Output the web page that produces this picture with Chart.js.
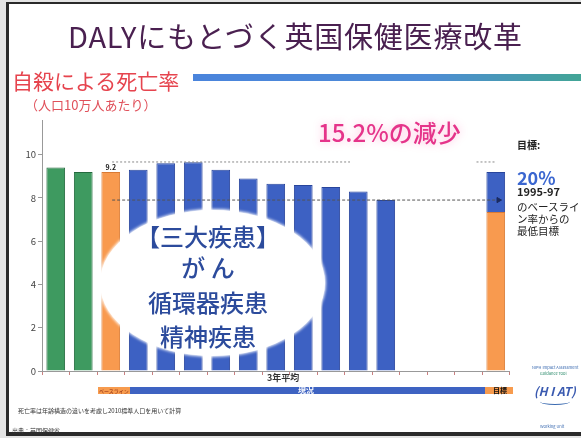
<!DOCTYPE html>
<html><head><meta charset="utf-8">
<script src="https://cdn.jsdelivr.net/npm/chart.js@4.4.0/dist/chart.umd.min.js"></script>
<style>
html,body{margin:0;padding:0;}
body{width:581px;height:438px;position:relative;overflow:hidden;background:#e4e4e4;font-family:"Noto Sans CJK JP","Noto Sans",sans-serif;}
#frame{position:absolute;left:6px;top:2px;width:575px;height:434px;box-sizing:border-box;border:2px solid #2a2a2a;border-left-width:3px;border-bottom-width:4px;border-right:none;background:#fff;}
canvas{position:absolute;left:0;top:0;}
.t{position:absolute;white-space:nowrap;line-height:1;}
#ell{position:absolute;left:100px;top:210px;width:225px;height:146px;border-radius:50%;background:#fff;box-shadow:0 0 3px 1px #fff;}
.el{position:absolute;left:96px;width:224px;text-align:center;font-size:24px;font-weight:500;color:#2c4b9c;line-height:1;white-space:nowrap;}
.seg{position:absolute;top:387px;height:7px;}
</style></head><body>
<div id="frame"></div>
<canvas id="c" width="581" height="438"></canvas>

<div class="t" style="left:68px;top:21px;font-size:29px;color:#4a2050;letter-spacing:0.8px;">DALYにもとづく英国保健医療改革</div>
<div class="t" style="left:12px;top:70px;font-size:21px;color:#e6444e;">自殺による死亡率</div>
<div class="t" style="left:25px;top:98px;font-size:13px;color:#e0505a;">（人口10万人あたり）</div>
<div style="position:absolute;left:193px;top:74px;width:388px;height:7px;background:linear-gradient(to right,#4a84dc,#4e8cd6 60%,#42a596);"></div>
<div class="t" style="left:318px;top:120px;font-size:24px;font-weight:500;color:#e5348a;text-shadow:0 0 8px rgba(255,170,210,0.8);">15.2%の減少</div>

<div class="t" style="left:517px;top:140px;font-size:10px;font-weight:bold;color:#222;">目標:</div>
<div class="t" style="left:517px;top:168px;font-size:18px;font-weight:bold;color:#3a66d0;">20%</div>
<div class="t" style="left:517px;top:186px;font-size:11px;font-weight:bold;color:#222;">1995-97</div>
<div class="t" style="left:517px;top:202px;font-size:10.5px;color:#222;">のベースライ</div>
<div class="t" style="left:517px;top:214px;font-size:10.5px;color:#222;">ン率からの</div>
<div class="t" style="left:517px;top:226px;font-size:10.5px;color:#222;">最低目標</div>

<div id="ell"></div>
<div class="el" style="top:224px;">【三大疾患】</div>
<div class="el" style="top:255px;">が ん</div>
<div class="el" style="top:290px;">循環器疾患</div>
<div class="el" style="top:324px;">精神疾患</div>

<div class="t" style="left:267px;top:373px;font-size:9px;font-weight:bold;color:#333;">3年平均</div>
<div class="seg" style="left:98px;width:32px;background:#f79b4e;"></div>
<div class="seg" style="left:130px;width:355px;background:#3e63c2;"></div>
<div class="seg" style="left:485px;width:28px;background:#f79b4e;"></div>
<div class="t" style="left:99px;top:388px;font-size:5px;color:#8a2a10;">ベースライン</div>
<div class="t" style="left:298px;top:386px;font-size:8px;font-weight:bold;color:#fff;">現況</div>
<div class="t" style="left:493px;top:387px;font-size:7px;font-weight:bold;color:#111;">目標</div>

<div class="t" style="left:18px;top:408px;font-size:6px;color:#333;">死亡率は年齢構造の違いを考慮し2010標準人口を用いて計算</div>
<div class="t" style="left:12px;top:428px;font-size:6px;color:#333;">出典：英国保健省</div>

<div class="t" style="left:532px;top:365px;font-size:4px;color:#3a6ab0;">NIPH Impact Assessment</div>
<div class="t" style="left:540px;top:371px;font-size:4px;color:#2a8a6a;">Guidance Tool</div>
<div class="t" style="left:534px;top:385px;font-size:12px;font-style:italic;font-weight:bold;color:#3a5ab0;">(H I AT)</div>
<div style="position:absolute;left:540px;top:398px;width:30px;height:6px;border-bottom:1.5px solid #3a6ab0;border-radius:0 0 50% 50%;"></div>
<div class="t" style="left:540px;top:424px;font-size:4px;color:#3a6ab0;">Working Unit</div>

<script>
const categories = ['1993-95','1994-96','1995-97','1996-98','1997-99','1998-00','1999-01','2000-02','2001-03','2002-04','2003-05','2004-06','2005-07','2006-08','2007-09','2008-10','2009-11'];
const earlyRates    = [9.4, 9.2, null, null, null, null, null, null, null, null, null, null, null, null, null, null, null];
const baselineTarget = [null, null, 9.2, null, null, null, null, null, null, null, null, null, null, null, null, null, 7.35];
const currentRates  = [null, null, null, 9.3, 9.6, 9.65, 9.3, 8.9, 8.65, 8.6, 8.5, 8.3, 7.9, null, null, null, [7.35, 9.2]];
const peakLine      = [{x:2.05,y:9.66},{x:10.7,y:9.66},{x:13,y:null},{x:15.3,y:9.66},{x:16,y:9.66}];
const reductionLine = [{x:2.05,y:7.9},{x:16.1,y:7.9}];
const yTicks = [0, 2, 4, 6, 8, 10];
const barLabels = {2: '9.2'};

const FONT = '"Noto Sans CJK JP","Noto Sans",sans-serif';
const labelPlugin = {
  id: 'barLabels',
  afterDatasetsDraw(chart) {
    const meta = chart.getDatasetMeta(1);
    const ctx = chart.ctx;
    ctx.save();
    ctx.font = 'bold 7px ' + FONT;
    ctx.fillStyle = '#222';
    ctx.textAlign = 'center';
    ctx.textBaseline = 'bottom';
    Object.keys(barLabels).forEach(i => {
      const el = meta.data[i];
      if (el) ctx.fillText(barLabels[i], el.x, el.y - 1);
    });
    ctx.restore();
  }
};

const barCommon = {type:'bar', grouped:false, barPercentage:0.68, categoryPercentage:1, borderWidth:1, order:2};
new Chart(document.getElementById('c'), {
  data: {
    labels: categories,
    datasets: [
      Object.assign({}, barCommon, {data: earlyRates, backgroundColor:'#3e9a60', borderColor:'#246a3e'}),
      Object.assign({}, barCommon, {data: baselineTarget, backgroundColor:'#f89a4f', borderColor:'#d97a34'}),
      Object.assign({}, barCommon, {data: currentRates, backgroundColor:'#3d61c3', borderColor:'#28459c'}),
      {type:'line', xAxisID:'x2', data: peakLine, borderColor:'#888', borderWidth:1, borderDash:[2,2], pointRadius:0, spanGaps:false, order:1},
      {type:'line', xAxisID:'x2', data: reductionLine, borderColor:'#555', borderWidth:1, borderDash:[3,2], pointRadius:[0,3], pointStyle:'triangle', rotation:90, pointBackgroundColor:'#1a2a60', pointBorderColor:'#1a2a60', order:1}
    ]
  },
  options: {
    responsive:false, animation:false,
    layout:{padding:{left:0,right:71.5,top:120,bottom:67}},
    plugins:{legend:{display:false}, tooltip:{enabled:false}},
    scales:{
      x:{type:'category', offset:true, grid:{drawOnChartArea:false, offset:true, tickLength:4, color:'#c98080'}, border:{color:'#999'}, ticks:{display:false}, afterFit(s){s.height=0;}},
      x2:{type:'linear', display:false, min:-0.5, max:16.5},
      y:{min:0, max:11.6, ticks:{includeBounds:false, font:{size:9.5, family:FONT}, color:'#444', padding:2},
         afterBuildTicks(s){ s.ticks = yTicks.map(v => ({value:v})); },
         grid:{drawOnChartArea:false, tickLength:4, color:'#999'}, border:{color:'#999'},
         afterFit(s){ s.width = 42; }}
    }
  },
  plugins:[labelPlugin]
});
</script>
</body></html>
